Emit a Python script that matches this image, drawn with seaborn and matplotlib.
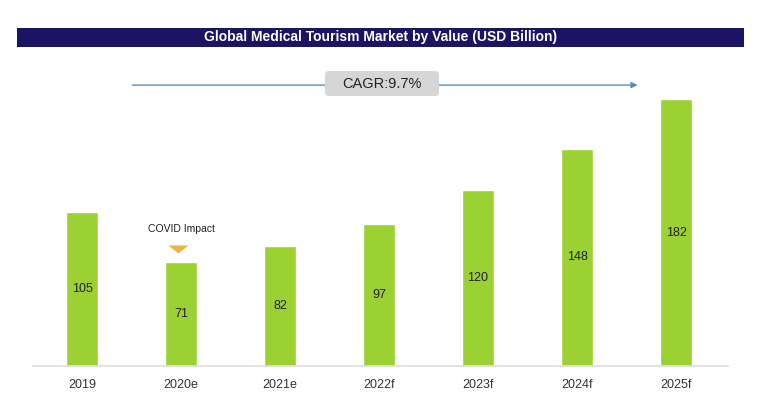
import matplotlib
matplotlib.use("Agg")
import matplotlib.pyplot as plt
import seaborn as sns
import pandas as pd
from matplotlib.patches import FancyBboxPatch, Rectangle
from matplotlib.transforms import IdentityTransform

# data
years = ["2019", "2020e", "2021e", "2022f", "2023f", "2024f", "2025f"]
values = [105, 71, 82, 97, 120, 148, 182]
cagr_label = "CAGR:9.7%"
title = "Global Medical Tourism Market by Value (USD Billion)"

sns.set_theme(style="white")
plt.rcParams["font.family"] = ["Liberation Sans", "DejaVu Sans"]

df = pd.DataFrame({"year": years, "value": values})

W, H = 760, 407
fig = plt.figure(figsize=(7.6, 4.07), dpi=100)
ax = fig.add_axes([33 / W, 41 / H, 695 / W, 306 / H])

sns.barplot(data=df, x="year", y="value", color="#9BD133", saturation=1,
            width=0.325, ax=ax)

ax.set_xlim(-0.495, 6.525)
ax.set_ylim(0, 208.6)
ax.set_xlabel("")
ax.set_ylabel("")
ax.set_yticks([])
for s in ["top", "right", "left"]:
    ax.spines[s].set_visible(False)
ax.spines["bottom"].set_color("#DDDDDD")
ax.spines["bottom"].set_linewidth(1.2)
ax.tick_params(axis="x", length=0, pad=9, labelsize=9, labelcolor="#333333")

# value labels in the middle of each bar
for i, v in enumerate(values):
    ax.text(i, v / 2, str(v), ha="center", va="center", fontsize=9, color="#222222")

# CAGR arrow and label box (box drawn in pixels)
ax.annotate("", xy=(5.64, 191.5), xytext=(0.48, 191.5),
            arrowprops=dict(arrowstyle="-|>", color="#5B8DB8", lw=1, mutation_scale=9))
box = FancyBboxPatch((325, H - 96), 114, 25, boxstyle="round,pad=0,rounding_size=4",
                     transform=IdentityTransform(), fc="#D6D6D6", ec="none", zorder=3)
fig.patches.append(box)
fig.text(382 / W, 1 - 84 / H, cagr_label, ha="center", va="center", fontsize=10.5,
         color="#222222", zorder=4)

# COVID impact marker (flat downward triangle)
ax.text(1.0, 93.5, "COVID Impact", ha="center", va="center", fontsize=7.5, color="#222222")
tri = [(-1, 0.4), (1, 0.4), (0, -0.4)]
ax.scatter([0.97], [80], marker=tri, s=210, color="#E8B83A", linewidths=0)

# title band
fig.patches.append(Rectangle((17 / W, 1 - 47 / H), 727 / W, 19 / H,
                             transform=fig.transFigure, fc="#1B1464", ec="none"))
fig.text(381 / W, 1 - 37.5 / H, title, ha="center", va="center",
         fontsize=10, fontweight="bold", color="white")

fig.savefig("out.png", dpi=100)
